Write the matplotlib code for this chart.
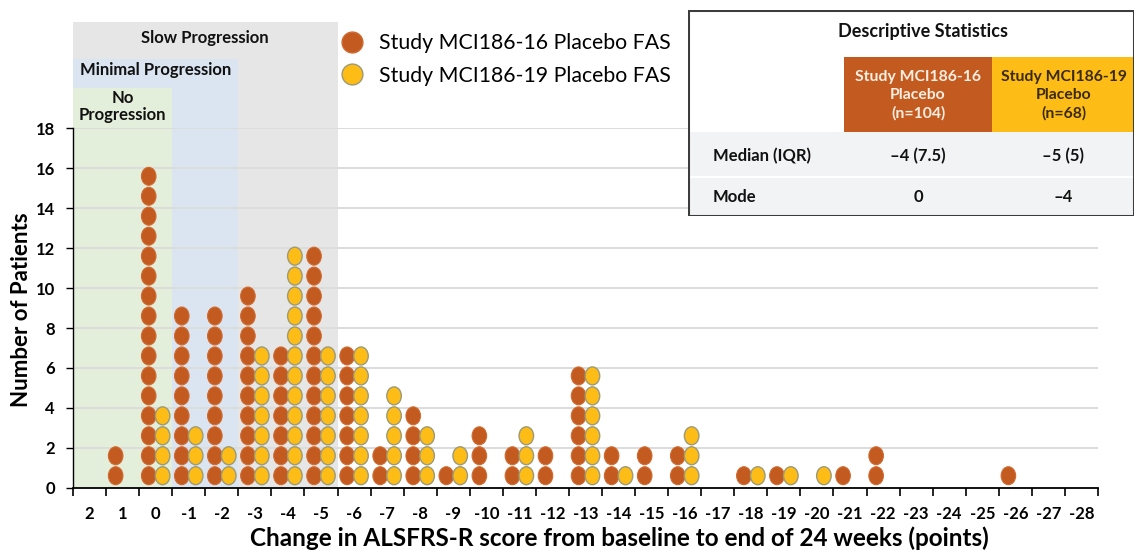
'''ALSFRS-R change dot plot, two placebo groups'''
import matplotlib
matplotlib.use('Agg')
import matplotlib.pyplot as plt
from matplotlib.patches import Ellipse, Rectangle
from matplotlib.lines import Line2D
import numpy as np

plt.rcParams['font.family'] = ['Lato', 'DejaVu Sans']

# x categories: change in score, 2 down to -28
categories = list(range(2, -29, -1))
# number of patients per category
counts_16 = [0, 2, 16, 9, 9, 10, 7, 12, 7, 2, 4, 1, 3, 2, 2, 6,
             2, 2, 2, 0, 1, 1, 0, 1, 2, 0, 0, 0, 1, 0, 0]
counts_19 = [0, 0, 4, 3, 2, 7, 12, 7, 7, 5, 3, 2, 0, 3, 0, 6,
             1, 0, 3, 0, 1, 1, 1, 0, 0, 0, 0, 0, 0, 0, 0]
series_labels = ['Study MCI186-16 Placebo FAS', 'Study MCI186-19 Placebo FAS']

# progression bands: (label, last category included, top in y units)
bands = [('Slow Progression', -5, 23.35, '#e6e6e6'),
         ('Minimal Progression', -2, 21.5, '#dbe5f2'),
         ('No\nProgression', 0, 20.0, '#e3efdb')]

# descriptive statistics table
stat_rows = ['Median (IQR)', 'Mode']
stat_16 = ['\u20134 (7.5)', '0']
stat_19 = ['\u20135 (5)', '\u20134']
head_16 = 'Study MCI186-16\nPlacebo\n(n=104)'
head_19 = 'Study MCI186-19\nPlacebo\n(n=68)'

ORANGE = '#c35a1f'
YELLOW = '#fdbd16'

W, H = 1137, 554
fig = plt.figure(figsize=(W / 100, H / 100), dpi=100)
ax = fig.add_axes([73 / W, (H - 487.7) / H, (1098 - 73) / W, (487.7 - 128.4) / H])
ax.set_xlim(-0.5, len(categories) - 0.5)
ax.set_ylim(0, 18)

# shaded bands, running above the plot area
for name, last, top, col in bands:
    right = categories.index(last) + 0.5
    ax.add_patch(Rectangle((-0.5, 0), right + 0.5, top, facecolor=col,
                           edgecolor='none', clip_on=False, zorder=0))
ax.text(3.5, 22.55, 'Slow Progression', ha='center', va='center',
        fontsize=12, fontweight='bold', color='#111111')
ax.text(-0.3, 20.95, 'Minimal Progression', ha='left', va='center',
        fontsize=12, fontweight='bold', color='#111111')
ax.text(1.0, 19.1, 'No\nProgression', ha='center', va='center',
        fontsize=12, fontweight='bold', color='#111111', linespacing=1.1)

# gridlines
for yv in range(2, 19, 2):
    ax.axhline(yv, color='#dcdcdc', lw=1.4, zorder=1)

# dots, one per patient
dw, dh, off = 0.44, 0.9, 0.21
for i in range(len(categories)):
    for j in range(counts_16[i]):
        ax.add_patch(Ellipse((i - off, j + 0.6), dw, dh, facecolor=ORANGE,
                             edgecolor='#d06a30', lw=0.8, zorder=3))
    for j in range(counts_19[i]):
        ax.add_patch(Ellipse((i + off, j + 0.6), dw, dh, facecolor=YELLOW,
                             edgecolor='#9c9a78', lw=1.0, zorder=3))

# axes styling
for s in ['top', 'right']:
    ax.spines[s].set_visible(False)
ax.spines['left'].set_linewidth(1.0)
ax.spines['bottom'].set_linewidth(1.3)
ax.set_xticks(np.arange(-0.5, len(categories), 1))
ax.set_xticklabels([])
ax.set_xticks(np.arange(len(categories)), minor=True)
ax.set_xticklabels([str(c) for c in categories], minor=True)
ax.tick_params(axis='x', which='major', length=6, width=1.2, direction='out')
ax.tick_params(axis='x', which='minor', length=0, pad=13, labelsize=12)
ax.set_yticks(range(0, 19, 2))
ax.tick_params(axis='y', length=5, width=1.0, pad=8, labelsize=12)
for lab in ax.get_xticklabels(minor=True) + ax.get_yticklabels():
    lab.set_fontweight('bold')

fig.text(22 / W, (H - 310) / H, 'Number of Patients', rotation=90,
         ha='center', va='center', fontsize=16, fontweight='bold')
fig.text(619 / W, (H - 538) / H,
         'Change in ALSFRS-R score from baseline to end of 24 weeks (points)',
         ha='center', va='center', fontsize=17.5, fontweight='bold')

# legend
handles = [Line2D([], [], ls='none', marker='o', markersize=15,
                  markerfacecolor=ORANGE, markeredgecolor='#d06a30'),
           Line2D([], [], ls='none', marker='o', markersize=15,
                  markerfacecolor=YELLOW, markeredgecolor='#9c9a78')]
fig.legend(handles, series_labels, loc='upper left', frameon=False,
           bbox_to_anchor=(331 / W, (H - 33) / H), fontsize=15.3,
           handletextpad=0.25, labelspacing=0.6, borderaxespad=0, borderpad=0)

# statistics table, drawn in pixel coordinates
tx0, tx1, ty0, ty1 = 688, 1134, 10, 216
tab = fig.add_axes([tx0 / W, (H - ty1) / H, (tx1 - tx0) / W, (ty1 - ty0) / H])
tab.set_xlim(tx0, tx1)
tab.set_ylim(ty1, ty0)
tab.axis('off')
tab.add_patch(Rectangle((tx0, ty0), tx1 - tx0, ty1 - ty0, facecolor='white',
                        edgecolor='none'))
c1, c2 = 844, 992
tab.add_patch(Rectangle((c1, 57), c2 - c1, 75, facecolor=ORANGE, edgecolor='none'))
tab.add_patch(Rectangle((c2, 57), tx1 - c2, 75, facecolor=YELLOW, edgecolor='none'))
tab.add_patch(Rectangle((tx0, 132), tx1 - tx0, 44, facecolor='#f2f3f4', edgecolor='none'))
tab.add_patch(Rectangle((tx0, 178), tx1 - tx0, 38, facecolor='#f2f3f4', edgecolor='none'))
tab.add_patch(Rectangle((tx0, ty0), tx1 - tx0, ty1 - ty0, facecolor='none',
                        edgecolor='#3c3c3c', lw=2.2))
tab.text(923, 32, 'Descriptive Statistics', ha='center', va='center',
         fontsize=13, fontweight='bold', color='#111111')
tab.text((c1 + c2) / 2, 95, head_16, ha='center', va='center', fontsize=11.3,
         fontweight='bold', color='#fbeee2', linespacing=1.35)
tab.text((c2 + tx1) / 2 + 1, 95, head_19, ha='center', va='center', fontsize=11.3,
         fontweight='bold', color='#3a2a10', linespacing=1.35)
for k, yy in enumerate([156, 197]):
    tab.text(713, yy, stat_rows[k], ha='left', va='center', fontsize=12,
             fontweight='bold', color='#111111')
    tab.text((c1 + c2) / 2, yy, stat_16[k], ha='center', va='center',
             fontsize=12, fontweight='bold', color='#111111')
    tab.text((c2 + tx1) / 2, yy, stat_19[k], ha='center', va='center',
             fontsize=12, fontweight='bold', color='#111111')

fig.savefig('out.png', dpi=100)
